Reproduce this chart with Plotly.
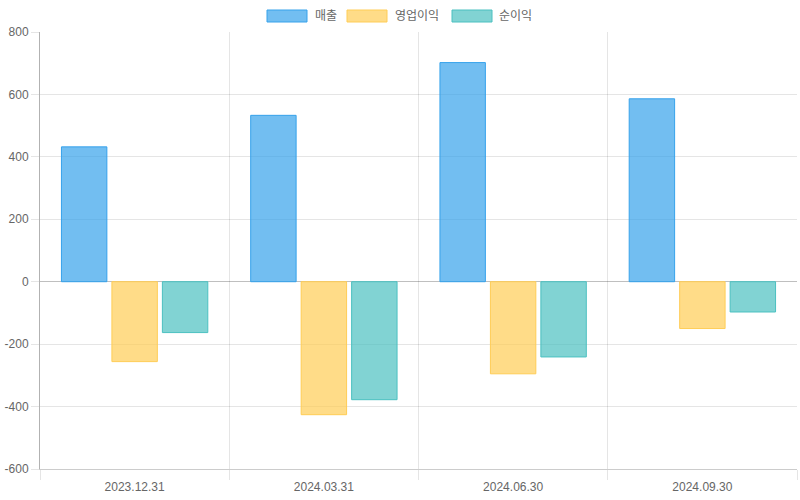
import plotly.graph_objects as go

categories = ["2023.12.31", "2024.03.31", "2024.06.30", "2024.09.30"]
series_names = ["매출", "영업이익", "순이익"]
sales = [432, 533, 702, 586]
op_profit = [-256, -426, -295, -150]
net_profit = [-163, -378, -241, -97]
y_ticks = [-600, -400, -200, 0, 200, 400, 600, 800]
y_tick_labels = [str(v) for v in y_ticks]

fills = ["rgba(54,162,235,0.7)", "rgba(255,205,86,0.7)", "rgba(75,192,192,0.7)"]
borders = ["rgb(54,162,235)", "rgb(255,205,86)", "rgb(75,192,192)"]

FONT = "Liberation Sans, Arial, Noto Sans CJK KR, sans-serif"

fig = go.Figure()
for name, vals, fc, bc in zip(series_names, [sales, op_profit, net_profit], fills, borders):
    fig.add_trace(go.Bar(
        x=categories, y=vals, name=name,
        marker=dict(color=fc, line=dict(color=bc, width=1)),
        showlegend=False,
    ))

W, H = 800, 500
ml, mr, mt, mb = 40, 3, 32, 31
pw, ph = W - ml - mr, H - mt - mb

def px2paper(x, y):
    return (x - ml) / pw, (H - mb - y) / ph

legend_items = [(267, 313), (347, 393), (452, 497)]
shapes = []
annotations = []
for (bx, tx), name, fc, bc in zip(legend_items, series_names, fills, borders):
    x0, y0 = px2paper(bx, 22)
    x1, y1 = px2paper(bx + 40, 10)
    shapes.append(dict(type="rect", xref="paper", yref="paper", x0=x0, y0=y0, x1=x1, y1=y1,
                       fillcolor=fc, line=dict(color=bc, width=1)))
    ax, ay = px2paper(tx, 16)
    annotations.append(dict(xref="paper", yref="paper", x=ax, y=ay, text=name, showarrow=False,
                            xanchor="left", yanchor="middle",
                            font=dict(family=FONT, size=12, color="#666666")))

fig.update_layout(
    width=W, height=H,
    margin=dict(l=ml, r=mr, t=mt, b=mb, pad=0),
    paper_bgcolor="white", plot_bgcolor="white",
    barmode="group", bargap=0.2, bargroupgap=0.1,
    font=dict(family=FONT, size=12, color="#666666"),
    shapes=shapes, annotations=annotations,
    showlegend=False,
)
fig.update_xaxes(
    type="category", tickson="boundaries", ticks="outside", ticklen=10,
    tickcolor="rgba(0,0,0,0.1)", showgrid=True, gridcolor="rgba(0,0,0,0.1)",
    showline=True, linecolor="rgba(0,0,0,0.2)", linewidth=1,
    tickfont=dict(size=12, color="#666666"), ticklabelstandoff=7,
)
fig.update_yaxes(
    range=[-600, 800], tickmode="array", tickvals=y_ticks, ticktext=y_tick_labels,
    ticks="outside", ticklen=8,
    tickcolor="rgba(0,0,0,0.1)", showgrid=True, gridcolor="rgba(0,0,0,0.1)",
    zeroline=True, zerolinecolor="rgba(0,0,0,0.25)", zerolinewidth=1,
    showline=True, linecolor="rgba(0,0,0,0.3)", linewidth=1,
    tickfont=dict(size=12, color="#666666"),
)

fig.write_html("out.html")
